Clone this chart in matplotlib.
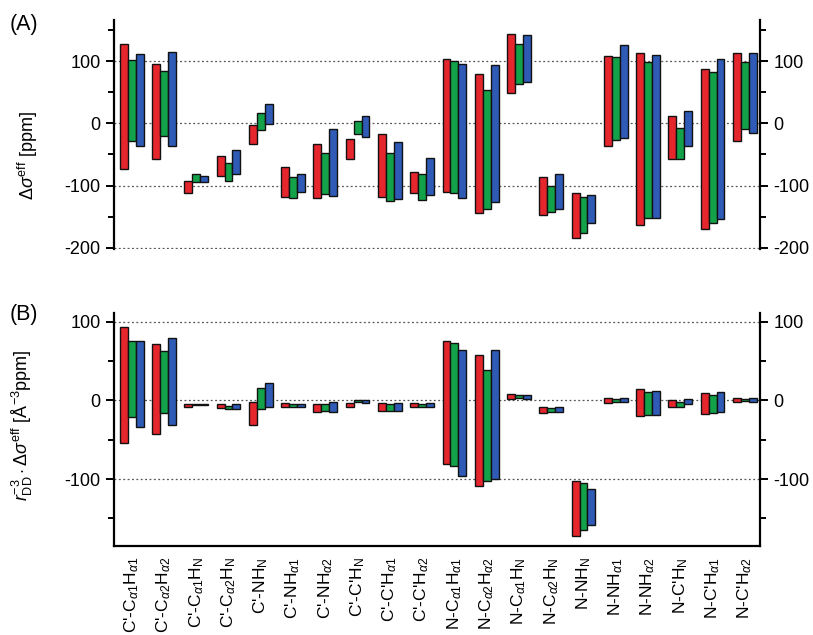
import numpy as np
import matplotlib
matplotlib.use("Agg")
import matplotlib.pyplot as plt
from matplotlib.ticker import MultipleLocator

plt.rcParams['font.family'] = ['Liberation Sans', 'DejaVu Sans']
plt.rcParams['mathtext.fontset'] = 'custom'
plt.rcParams['mathtext.rm'] = 'Liberation Sans'
plt.rcParams['mathtext.it'] = 'Liberation Sans:italic'
plt.rcParams['mathtext.bf'] = 'Liberation Sans:bold'
plt.rcParams['axes.unicode_minus'] = False

categories = [
    r"C'-C$_{\alpha1}$H$_{\alpha1}$", r"C'-C$_{\alpha2}$H$_{\alpha2}$",
    r"C'-C$_{\alpha1}$H$_{\rm N}$", r"C'-C$_{\alpha2}$H$_{\rm N}$",
    r"C'-NH$_{\rm N}$", r"C'-NH$_{\alpha1}$", r"C'-NH$_{\alpha2}$",
    r"C'-C'H$_{\rm N}$", r"C'-C'H$_{\alpha1}$", r"C'-C'H$_{\alpha2}$",
    r"N-C$_{\alpha1}$H$_{\alpha1}$", r"N-C$_{\alpha2}$H$_{\alpha2}$",
    r"N-C$_{\alpha1}$H$_{\rm N}$", r"N-C$_{\alpha2}$H$_{\rm N}$",
    r"N-NH$_{\rm N}$", r"N-NH$_{\alpha1}$", r"N-NH$_{\alpha2}$",
    r"N-C'H$_{\rm N}$", r"N-C'H$_{\alpha1}$", r"N-C'H$_{\alpha2}$",
]

# Panel A: delta sigma eff [ppm]  (high, low) per series
a_red_hi = [127, 95, -92, -52, -3, -70, -34, -25, -18, -79, 104, 79, 143, -86, -112, 108, 113, 11, 87, 113]
a_red_lo = [-74, -58, -112, -84, -34, -118, -120, -58, -118, -112, -110, -144, 48, -148, -184, -36, -163, -58, -170, -29]
a_grn_hi = [102, 84, -81, -64, 16, -86, -48, 4, -47, -82, 100, 53, 127, -100, -118, 107, 98, -8, 82, 98]
a_grn_lo = [-28, -21, -95, -92, -11, -120, -114, -17, -125, -123, -112, -138, 63, -142, -177, -27, -152, -58, -160, -9]
a_blu_hi = [111, 115, -84, -43, 31, -82, -9, 12, -30, -55, 95, 94, 142, -82, -116, 126, 110, 20, 103, 113]
a_blu_lo = [-37, -36, -94, -82, -1, -111, -117, -22, -122, -116, -120, -127, 67, -138, -160, -23, -152, -37, -154, -16]

# Panel B: r_DD^-3 * delta sigma eff [A^-3 ppm]
b_red_hi = [93, 71, -5, -5, -2, -3, -4, -3, -3, -3, 76, 58, 8, -8, -102, 3, 14, 1, 9, 3]
b_red_lo = [-54, -43, -8, -10, -31, -8, -15, -8, -13, -8, -81, -109, 2, -16, -172, -3, -20, -9, -17, -2]
b_grn_hi = [75, 63, -4, -7, 16, -4, -5, 1, -5, -4, 73, 39, 7, -10, -105, 2, 10, -2, 7, 2]
b_grn_lo = [-21, -16, -6, -11, -11, -8, -13, -2, -13, -8, -83, -103, 3, -15, -165, -2, -18, -8, -16, -1]
b_blu_hi = [76, 79, -4, -5, 22, -4, -2, 0, -3, -3, 64, 64, 7, -9, -112, 3, 12, 2, 10, 3]
b_blu_lo = [-34, -31, -6, -11, -8, -8, -15, -3, -14, -9, -96, -100, 2, -15, -158, -2, -18, -5, -15, -2]

colors = ['#e5262c', '#13a24a', '#2f5bb7']

fig = plt.figure(figsize=(8.13, 6.35), dpi=100)
axA = fig.add_axes([0.1402, 0.6079, 0.7946, 0.3606])
axB = fig.add_axes([0.1402, 0.1402, 0.7946, 0.3669])

x = np.arange(len(categories))
w = 0.245
offsets = [-w, 0, w]


def draw(ax, his, los):
    for off, c, hi, lo in zip(offsets, colors, his, los):
        hi = np.array(hi, float)
        lo = np.array(lo, float)
        ax.bar(x + off, hi - lo, bottom=lo, width=w, color=c,
               edgecolor='#111111', linewidth=1.0, zorder=3)


draw(axA, [a_red_hi, a_grn_hi, a_blu_hi], [a_red_lo, a_grn_lo, a_blu_lo])
draw(axB, [b_red_hi, b_grn_hi, b_blu_hi], [b_red_lo, b_grn_lo, b_blu_lo])

for ax in (axA, axB):
    ax.set_xlim(-0.55, 19.47)
    ax.yaxis.set_major_locator(MultipleLocator(100))
    ax.yaxis.set_minor_locator(MultipleLocator(50))
    ax.tick_params(axis='y', which='both', direction='out', left=True, right=True,
                   labelleft=True, labelright=True, labelsize=13, width=1.4)
    ax.tick_params(axis='y', which='major', length=6)
    ax.tick_params(axis='y', which='minor', length=4)
    ax.spines['top'].set_visible(False)
    for s in ('left', 'right', 'bottom'):
        ax.spines[s].set_linewidth(1.6)
    ax.grid(axis='y', which='major', linestyle=(0, (1.5, 2)), color='#555555',
            linewidth=0.9, zorder=0)

axA.set_ylim(-202, 166)
axA.spines['bottom'].set_visible(False)
axA.set_xticks([])

axB.set_ylim(-185, 111)
axB.set_xticks(x)
axB.set_xticklabels(categories, rotation=90, fontsize=12.5)
axB.tick_params(axis='x', length=0, pad=8)

axA.set_ylabel(r"$\Delta\sigma^{\rm eff}$ [ppm]", fontsize=13)
axA.yaxis.set_label_coords(-0.115, 0.41)
axB.set_ylabel(r"$\it{r}_{\rm DD}^{-3}\cdot\Delta\sigma^{\rm eff}$ [Å$^{-3}$ppm]", fontsize=13)
axB.yaxis.set_label_coords(-0.122, 0.52)

fig.text(0.012, 0.962, "(A)", fontsize=15.5, va='center', ha='left')
fig.text(0.012, 0.504, "(B)", fontsize=15.5, va='center', ha='left')

fig.savefig("out.png", dpi=100)
